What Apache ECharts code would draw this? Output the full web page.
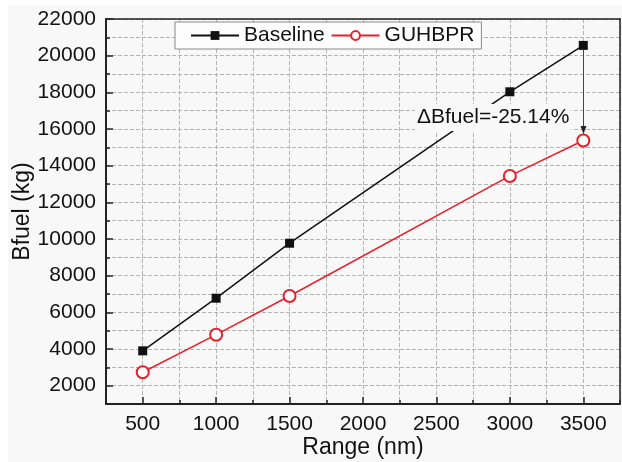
<!DOCTYPE html>
<html><head><meta charset="utf-8">
<script src="https://cdn.jsdelivr.net/npm/echarts@6/dist/echarts.min.js"></script>
<style>html,body{margin:0;padding:0;background:#fff}#c{width:622px;height:462px}</style>
</head><body><div id="c"></div>
<script>
const ranges = [500, 1000, 1500, 3000, 3500];
const baseline = [3900, 6770, 9770, 18030, 20560];
const guhbpr = [2730, 4780, 6890, 13440, 15370];
const xMajorTicks = [500, 1000, 1500, 2000, 2500, 3000, 3500];
const yMajorTicks = [2000, 4000, 6000, 8000, 10000, 12000, 14000, 16000, 18000, 20000, 22000];
const seriesNames = ['Baseline', 'GUHBPR'];
const annotationText = 'ΔBfuel=-25.14%';

const FONT = '"Liberation Sans", Arial, sans-serif';
const TXT = '#111';
const GRIDLINE = {show: true, lineStyle: {color: '#b4b4b4', width: 1, type: 'dashed'}};
const chart = echarts.init(document.getElementById('c'), null, {renderer: 'canvas'});

chart.setOption({
  animation: false,
  backgroundColor: '#f8f8f8',
  textStyle: {fontFamily: FONT},
  grid: {left: 106, top: 19, right: 2, bottom: 58, show: false, outerBoundsMode: 'none', containLabel: false},
  legend: {
    left: 175, top: 22, orient: 'horizontal',
    padding: [3, 7, 3, 15], itemWidth: 48, itemHeight: 11, itemGap: 6,
    borderColor: '#8a8a8a', borderWidth: 1, backgroundColor: '#fdfdfd',
    textStyle: {fontSize: 21, color: TXT, fontFamily: FONT},
    data: seriesNames
  },
  xAxis: [
    {
      type: 'value', min: 250, max: 3750, interval: 250,
      axisLine: {show: true, lineStyle: {color: '#222', width: 2}},
      axisTick: {show: true, inside: true, length: 4, lineStyle: {color: '#222', width: 1.5}},
      axisLabel: {
        fontSize: 21, color: TXT, margin: 10, fontFamily: FONT, showMinLabel: true, showMaxLabel: true,
        formatter: v => (xMajorTicks.indexOf(v) >= 0 ? String(v) : '')
      },
      splitLine: {show: false},
      name: 'Range (nm)', nameLocation: 'middle', nameGap: 32, nameMoveOverlap: false,
      nameTextStyle: {fontSize: 23, color: TXT, fontFamily: FONT}
    },
    {
      type: 'value', min: 250, max: 3750, interval: 250, position: 'top', gridIndex: 0,
      axisLine: {show: true, lineStyle: {color: '#222', width: 1.5}},
      axisTick: {show: false}, axisLabel: {show: false},
      splitLine: GRIDLINE
    },
    {
      type: 'value', min: 250, max: 3750, interval: 250, position: 'bottom', gridIndex: 0,
      axisLine: {show: false},
      axisTick: {show: true, inside: true, length: 7, customValues: xMajorTicks, lineStyle: {color: '#222', width: 1.5}},
      axisLabel: {show: false},
      splitLine: {show: false}
    }
  ],
  yAxis: [
    {
      type: 'value', min: 1000, max: 22000, interval: 1000,
      axisLine: {show: true, lineStyle: {color: '#222', width: 2}},
      axisTick: {show: true, inside: true, length: 4, lineStyle: {color: '#222', width: 1.5}},
      axisLabel: {
        fontSize: 21, color: TXT, margin: 10, fontFamily: FONT,
        formatter: v => (yMajorTicks.indexOf(v) >= 0 ? String(v) : '')
      },
      splitLine: {show: false},
      name: 'Bfuel (kg)', nameLocation: 'middle', nameGap: 72, nameRotate: 90, nameMoveOverlap: false,
      nameTextStyle: {fontSize: 23, color: TXT, fontFamily: FONT}
    },
    {
      type: 'value', min: 1000, max: 22000, interval: 1000, position: 'right', gridIndex: 0,
      axisLine: {show: true, lineStyle: {color: '#222', width: 1.5}},
      axisTick: {show: false}, axisLabel: {show: false},
      splitLine: GRIDLINE
    },
    {
      type: 'value', min: 1000, max: 22000, interval: 1000, position: 'left', gridIndex: 0,
      axisLine: {show: false},
      axisTick: {show: true, inside: true, length: 7, customValues: yMajorTicks, lineStyle: {color: '#222', width: 1.5}},
      axisLabel: {show: false},
      splitLine: {show: false}
    }
  ],
  series: [
    {
      name: seriesNames[0], type: 'line', z: 2,
      data: ranges.map((x, i) => [x, baseline[i]]),
      symbol: 'rect', symbolSize: 9,
      lineStyle: {color: '#111', width: 1.5},
      itemStyle: {color: '#111'}
    },
    {
      name: seriesNames[1], type: 'line', z: 5,
      data: ranges.map((x, i) => [x, guhbpr[i]]),
      symbol: 'emptyCircle', symbolSize: 12,
      lineStyle: {color: '#e8202a', width: 1.5},
      itemStyle: {color: '#e8202a', borderWidth: 1.3}
    }
  ]
});

// annotation arrow from Baseline to GUHBPR at the last range, placed through the chart's own scales
const pTop = chart.convertToPixel({gridIndex: 0}, [ranges[4], baseline[4]]);
const pBot = chart.convertToPixel({gridIndex: 0}, [ranges[4], guhbpr[4]]);
const ax = Math.round(pTop[0]) + 0.5;
const tipY = pBot[1] - 6.5;
chart.setOption({
  graphic: [
    {type: 'rect', shape: {x: 0, y: 0, width: 622, height: 5}, style: {fill: '#fff'}, silent: true},
    {type: 'rect', shape: {x: 0, y: 0, width: 8, height: 462}, style: {fill: '#fff'}, silent: true},
    {type: 'line', z: 100, silent: true, shape: {x1: ax, y1: pTop[1] + 4, x2: ax, y2: tipY - 6},
     style: {stroke: '#444', lineWidth: 1}},
    {type: 'polygon', z: 100, silent: true,
     shape: {points: [[ax - 3, tipY - 8], [ax + 3, tipY - 8], [ax, tipY]]}, style: {fill: '#222'}},
    {type: 'text', left: 415, top: 104, z: 100,
     style: {text: annotationText, font: '21px ' + FONT, fill: TXT, backgroundColor: '#f8f8f8', padding: [3, 2]}}
  ]
});
</script></body></html>
